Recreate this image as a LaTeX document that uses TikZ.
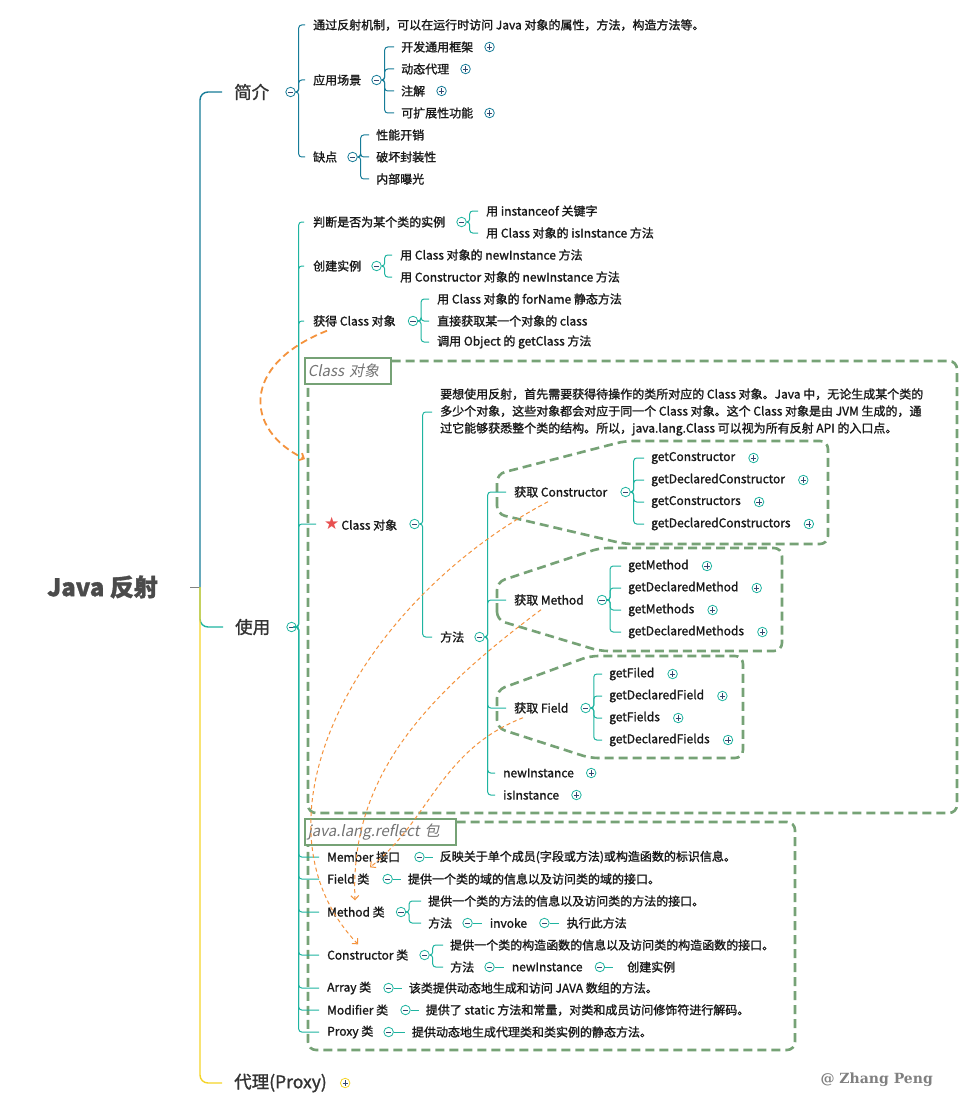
\documentclass[tikz,border=0pt]{standalone}
\usepackage{fontspec}
\setmainfont{Noto Sans CJK SC}[FakeBold=1.3]
\newfontfamily\slantcjk{Noto Sans CJK SC}[FakeSlant=0.2]
\newfontfamily\symfont{DejaVu Sans}
\newfontfamily\markfont{DejaVu Serif}
\usetikzlibrary{positioning,arrows.meta}

\definecolor{introc}{RGB}{22,124,152}
\definecolor{usec}{RGB}{30,180,160}
\definecolor{proxyc}{RGB}{245,212,40}
\definecolor{framec}{RGB}{118,162,118}
\definecolor{arrowc}{RGB}{244,146,60}
\definecolor{signc}{RGB}{50,70,110}
\definecolor{rootc}{RGB}{75,75,75}
\definecolor{starc}{RGB}{232,80,80}

\tikzset{
  txt/.style={anchor=west, inner sep=0pt, font=\fontsize{12}{14}\selectfont, text=black!90},
  big/.style={anchor=west, inner sep=0pt, font=\fontsize{17.5}{20}\selectfont, text=black!80},
  foldm/.style={circle, draw=#1, fill=white, minimum size=9.5pt, inner sep=0pt, line width=0.8pt,
    path picture={\draw[signc, line width=0.7pt] ([xshift=-2.6pt]path picture bounding box.center) -- ([xshift=2.6pt]path picture bounding box.center);}},
  foldp/.style={foldm=#1,
    path picture={\draw[signc, line width=0.7pt] ([xshift=-2.6pt]path picture bounding box.center) -- ([xshift=2.6pt]path picture bounding box.center) ([yshift=-2.6pt]path picture bounding box.center) -- ([yshift=2.6pt]path picture bounding box.center);}},
  introl/.style={introc, line width=1pt, rounded corners=3pt},
  usel/.style={usec, line width=1pt, rounded corners=3pt},
  frame/.style={framec, line width=2.6pt, dash pattern=on 9pt off 5pt, rounded corners=8pt},
  flag/.style={draw=framec, fill=white, line width=1.6pt, anchor=north west, inner xsep=3pt, inner ysep=0pt, minimum height=26pt, align=left, font=\slantcjk\fontsize{15}{17}\selectfont, text=black!55},
  link/.style={arrowc, line width=1pt, dash pattern=on 4pt off 3pt, -{Straight Barb[length=4pt]}}
}

\begin{document}
\begin{tikzpicture}[x=1pt, y=-1pt]
\path[fill=white, use as bounding box] (0,0) rectangle (973,1118);

\node[flag, text width=80pt] (flag1) at (304,357) {Class 对象};
\draw[frame] ([yshift=-4pt]flag1.north east) -- (957,361) -- (957,813) -- (308,813) -- ([xshift=4pt]flag1.south west);
\node[flag, text width=145pt] (flag2) at (304,818) {java.lang.reflect 包};
\draw[frame] ([yshift=-4pt]flag2.north east) -- (795,822) -- (795,1050) -- (308,1050) -- ([xshift=4pt]flag2.south west);
\draw[frame] (497,514) -- (497,474) -- (625,441) -- (828,441) -- (828,544) -- (625,544) -- cycle;
\draw[frame] (497,620) -- (497,582) -- (600,548) -- (782,548) -- (782,651) -- (600,651) -- cycle;
\draw[frame] (497,728) -- (497,690) -- (590,656) -- (743,656) -- (743,758) -- (590,758) -- cycle;

\node[font=\bfseries\fontsize{24}{28}\selectfont, text=rootc, anchor=west, inner sep=0pt] (root) at (47,587) {Java 反射};
\coordinate (stub) at (190,587);
\coordinate (hub) at (200,587);
\node[big] (intro) at (234,92) {简介};
\node[big] (use) at (235,627) {使用};
\node[big] (proxy) at (234,1083) {代理(Proxy)};
\node[foldm=introc, right=16pt of intro] (intro-m) {};
\node[foldm=usec, right=16pt of use] (use-m) {};
\node[foldp=proxyc, right=13pt of proxy] (proxy-p) {};
\draw[rootc!70, line width=1pt] (stub) -- (hub);
\draw[usec, line width=1.4pt, rounded corners=8pt] (hub) |- ([xshift=-12pt]use.west);
\draw[introc, line width=1.4pt, rounded corners=8pt] (hub) |- ([xshift=-12pt]intro.west);
\draw[proxyc, line width=1.4pt, rounded corners=8pt] (hub) |- ([xshift=-12pt]proxy.west);

\node[txt] (idea) at (313,25) {通过反射机制，可以在运行时访问 Java 对象的属性，方法，构造方法等。};
\node[txt] (scene) at (313,80) {应用场景};
\node[txt] (flaw) at (313,157) {缺点};
\node[foldm=introc, right=10pt of scene] (scene-m) {};
\node[foldm=introc, right=10pt of flaw] (flaw-m) {};
\foreach \c in {idea,scene,flaw}
  \draw[introl] (intro-m.east) -- ++(3,0) |- ([xshift=-8pt]\c.west);
\foreach \t [count=\i] in {开发通用框架,动态代理,注解,可扩展性功能} {
  \node[txt] (scene\i) at (401,25+22*\i) {\t};
  \node[foldp=introc, right=11pt of scene\i] (scene\i-p) {};
  \draw[introl] (scene-m.east) -- ++(3,0) |- ([xshift=-7pt]scene\i.west);
}
\foreach \t [count=\i] in {性能开销,破坏封装性,内部曝光} {
  \node[txt] (flaw\i) at (376,113+22*\i) {\t};
  \draw[introl] (flaw-m.east) -- ++(3,0) |- ([xshift=-7pt]flaw\i.west);
}

\node[txt] (judge) at (313,222) {判断是否为某个类的实例};
\node[txt] (create) at (313,266) {创建实例};
\node[txt] (getcls) at (313,321) {获得 Class 对象};
\node[txt] (clsobj) at (324,524) {{\symfont\fontsize{17}{17}\selectfont\color{starc}★}\,Class 对象};
\node[txt] (member) at (327,857) {Member 接口};
\node[txt] (fieldcls) at (327,879) {Field 类};
\node[txt] (methcls) at (327,912) {Method 类};
\node[txt] (ctorcls) at (327,955) {Constructor 类};
\node[txt] (arraycls) at (327,988) {Array 类};
\node[txt] (modcls) at (327,1010) {Modifier 类};
\node[txt] (proxycls) at (327,1032) {Proxy 类};
\foreach \c in {judge,create,getcls}
  \draw[usel] (use-m.east) -- ++(2,0) |- ([xshift=-9pt]\c.west);
\foreach \c in {clsobj,member,fieldcls,methcls,ctorcls,arraycls,modcls,proxycls}
  \draw[usel] (use-m.east) -- ++(2,0) |- ([xshift=-8pt]\c.west);

\node[foldm=usec, right=11pt of judge] (judge-m) {};
\node[txt] (judge1) at (486,211) {用 instanceof 关键字};
\node[txt] (judge2) at (486,233) {用 Class 对象的 isInstance 方法};
\node[foldm=usec, right=10pt of create] (create-m) {};
\node[txt] (create1) at (400,255) {用 Class 对象的 newInstance 方法};
\node[txt] (create2) at (400,277) {用 Constructor 对象的 newInstance 方法};
\node[foldm=usec, right=12pt of getcls] (getcls-m) {};
\node[txt] (getcls1) at (437,299) {用 Class 对象的 forName 静态方法};
\node[txt] (getcls2) at (437,321) {直接获取某一个对象的 class};
\node[txt] (getcls3) at (437,342) {调用 Object 的 getClass 方法};
\foreach \c in {judge1,judge2}
  \draw[usel] (judge-m.east) -- ++(3,0) |- ([xshift=-8pt]\c.west);
\foreach \c in {create1,create2}
  \draw[usel] (create-m.east) -- ++(3,0) |- ([xshift=-8pt]\c.west);
\foreach \c in {getcls1,getcls2,getcls3}
  \draw[usel] (getcls-m.east) -- ++(3,0) |- ([xshift=-8pt]\c.west);

\node[foldm=usec, right=12pt of clsobj] (clsobj-m) {};
\node[txt, align=left, font=\fontsize{12}{17}\selectfont] (desc) at (440,412) {要想使用反射，首先需要获得待操作的类所对应的 Class 对象。Java 中，无论生成某个类的\\多少个对象，这些对象都会对应于同一个 Class 对象。这个 Class 对象是由 JVM 生成的，通\\过它能够获悉整个类的结构。所以，java.lang.Class 可以视为所有反射 API 的入口点。};
\node[txt] (fangfa) at (440,637) {方法};
\foreach \c in {desc,fangfa}
  \draw[usel] (clsobj-m.east) -- ++(3,0) |- ([xshift=-8pt]\c.west);

\node[foldm=usec, right=10pt of fangfa] (fangfa-m) {};
\node[txt] (getctor) at (514,492) {获取 Constructor};
\node[txt] (getmeth) at (514,600) {获取 Method};
\node[txt] (getfld) at (514,708) {获取 Field};
\node[txt] (newinst) at (503,773) {newInstance};
\node[txt] (isinst) at (503,795) {isInstance};
\node[foldp=usec, right=12pt of newinst] (newinst-p) {};
\node[foldp=usec, right=12pt of isinst] (isinst-p) {};
\foreach \c in {getctor,getmeth,getfld,newinst,isinst}
  \draw[usel] (fangfa-m.east) -- ++(3,0) |- ([xshift=-8pt]\c.west);

\node[foldm=usec, right=13pt of getctor] (getctor-m) {};
\foreach \t [count=\i] in {getConstructor,getDeclaredConstructor,getConstructors,getDeclaredConstructors} {
  \node[txt] (getctor\i) at (651,436+22*\i) {\t};
  \node[foldp=usec, right=13pt of getctor\i] (getctor\i-p) {};
  \draw[usel] (getctor-m.east) -- ++(3,0) |- ([xshift=-7pt]getctor\i.west);
}
\node[foldm=usec, right=13pt of getmeth] (getmeth-m) {};
\foreach \t [count=\i] in {getMethod,getDeclaredMethod,getMethods,getDeclaredMethods} {
  \node[txt] (getmeth\i) at (628,544+22*\i) {\t};
  \node[foldp=usec, right=13pt of getmeth\i] (getmeth\i-p) {};
  \draw[usel] (getmeth-m.east) -- ++(3,0) |- ([xshift=-7pt]getmeth\i.west);
}
\node[foldm=usec, right=12pt of getfld] (getfld-m) {};
\foreach \t [count=\i] in {getFiled,getDeclaredField,getFields,getDeclaredFields} {
  \node[txt] (getfld\i) at (609,652+22*\i) {\t};
  \node[foldp=usec, right=13pt of getfld\i] (getfld\i-p) {};
  \draw[usel] (getfld-m.east) -- ++(3,0) |- ([xshift=-7pt]getfld\i.west);
}

\node[foldm=usec, right=14pt of member] (member-m) {};
\node[txt, right=15pt of member-m] (member-d) {反映关于单个成员(字段或方法)或构造函数的标识信息。};
\node[foldm=usec, right=13pt of fieldcls] (fieldcls-m) {};
\node[txt, right=15pt of fieldcls-m] (fieldcls-d) {提供一个类的域的信息以及访问类的域的接口。};
\node[foldm=usec, right=12pt of arraycls] (arraycls-m) {};
\node[txt, right=15pt of arraycls-m] (arraycls-d) {该类提供动态地生成和访问 JAVA 数组的方法。};
\node[foldm=usec, right=12pt of modcls] (modcls-m) {};
\node[txt, right=15pt of modcls-m] (modcls-d) {提供了 static 方法和常量，对类和成员访问修饰符进行解码。};
\node[foldm=usec, right=10pt of proxycls] (proxycls-m) {};
\node[txt, right=18pt of proxycls-m] (proxycls-d) {提供动态地生成代理类和类实例的静态方法。};
\foreach \c in {member,fieldcls,arraycls,modcls,proxycls}
  \draw[usel] (\c-m.east) -- ([xshift=-7pt]\c-d.west);

\node[foldm=usec, right=11pt of methcls] (methcls-m) {};
\node[txt] (methcls1) at (428,901) {提供一个类的方法的信息以及访问类的方法的接口。};
\node[txt] (methcls2) at (428,923) {方法};
\node[foldm=usec, right=10pt of methcls2] (methcls2-m) {};
\node[txt, right=17pt of methcls2-m] (invoke) {invoke};
\node[foldm=usec, right=12pt of invoke] (invoke-m) {};
\node[txt, right=17pt of invoke-m] (invoke1) {执行此方法};
\foreach \c in {methcls1,methcls2}
  \draw[usel] (methcls-m.east) -- ++(3,0) |- ([xshift=-7pt]\c.west);
\draw[usel] (methcls2-m.east) -- ([xshift=-8pt]invoke.west);
\draw[usel] (invoke-m.east) -- ([xshift=-8pt]invoke1.west);

\node[foldm=usec, right=11pt of ctorcls] (ctorcls-m) {};
\node[txt] (ctorcls1) at (450,945) {提供一个类的构造函数的信息以及访问类的构造函数的接口。};
\node[txt] (ctorcls2) at (450,967) {方法};
\node[foldm=usec, right=10pt of ctorcls2] (ctorcls2-m) {};
\node[txt, right=17pt of ctorcls2-m] (ctornew) {newInstance};
\node[foldm=usec, right=12pt of ctornew] (ctornew-m) {};
\node[txt, right=22pt of ctornew-m] (ctornew1) {创建实例};
\foreach \c in {ctorcls1,ctorcls2}
  \draw[usel] (ctorcls-m.east) -- ++(3,0) |- ([xshift=-7pt]\c.west);
\draw[usel] (ctorcls2-m.east) -- ([xshift=-8pt]ctornew.west);
\draw[usel] (ctornew-m.east) -- ([xshift=-14pt]ctornew1.west);

\coordinate (f1) at (305,459);
\draw[link, line width=1.8pt, dash pattern=on 7pt off 4pt] ([xshift=14pt,yshift=-4pt]getcls.south west) .. controls (240,365) and (245,430) .. (f1);
\draw[link] ([xshift=34pt,yshift=-4pt]getctor.south west) .. controls (360,600) and (240,820) .. ([xshift=31pt,yshift=5pt]ctorcls.north west);
\draw[link] ([xshift=27pt,yshift=-4pt]getmeth.south west) .. controls (420,700) and (350,780) .. ([xshift=28pt,yshift=6pt]methcls.north west);
\draw[link] ([xshift=9pt,yshift=-4pt]getfld.south west) .. controls (440,750) and (430,820) .. ([xshift=43pt,yshift=6pt]fieldcls.north west);

\node[anchor=east, inner sep=0pt, font=\markfont\bfseries\fontsize{14}{16}\selectfont, text=black!50] (sign) at (933,1080) {@ Zhang Peng};
\end{tikzpicture}
\end{document}
